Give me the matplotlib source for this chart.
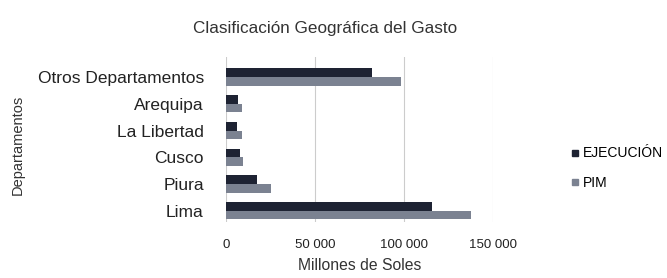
import matplotlib
matplotlib.use("Agg")
import matplotlib.pyplot as plt
import numpy as np
from matplotlib.lines import Line2D

plt.rcParams['font.family'] = ['Liberation Sans', 'DejaVu Sans']

categorias = ["Lima", "Piura", "Cusco", "La Libertad", "Arequipa", "Otros Departamentos"]
ejecucion = [116000, 17600, 8000, 6200, 6800, 81800]
pim = [137500, 25000, 9600, 9000, 9000, 98300]
xticks = [0, 50000, 100000, 150000]
xticklabels = ["0", "50 000", "100 000", "150 000"]

c_ejec = "#1e2333"
c_pim = "#7b8291"

fig = plt.figure(figsize=(6.67, 2.78), dpi=100)
ax = fig.add_axes([226/667, 1-222/278, (493-226)/667, (222-57)/278])

y = np.arange(len(categorias))
h = 0.32
ax.barh(y + h/2, ejecucion, height=h, color=c_ejec, zorder=3)
ax.barh(y - h/2, pim, height=h, color=c_pim, zorder=3)

ax.set_xlim(0, 150000)
ax.set_ylim(-0.42, 5.75)
ax.set_xticks(xticks)
ax.set_xticklabels(xticklabels, fontsize=9.5, color="#222222")
ax.set_yticks(y)
ax.set_yticklabels(categorias, fontsize=12.5, color="#222222")
ax.tick_params(axis='both', length=0)
ax.tick_params(axis='x', pad=12)
ax.tick_params(axis='y', pad=16)
ax.grid(axis='x', color="#cccccc", linewidth=0.8, zorder=0)
for s in ax.spines.values():
    s.set_visible(False)

ax.set_xlabel("Millones de Soles", fontsize=11.3, color="#333333", labelpad=5)
fig.text(18/667, 1-145/278, "Departamentos", rotation=90, fontsize=10.5,
         color="#333333", ha='center', va='center')
fig.text(325/667, 1-28/278, "Clasificación Geográfica del Gasto", fontsize=12.3,
         color="#333333", ha='center', va='center')

handles = [Line2D([0], [0], marker='s', color='none', markerfacecolor=c_ejec,
                  markeredgecolor=c_ejec, markersize=5),
           Line2D([0], [0], marker='s', color='none', markerfacecolor=c_pim,
                  markeredgecolor=c_pim, markersize=5)]
fig.legend(handles, ["EJECUCIÓN", "PIM"], loc='center left',
           bbox_to_anchor=(558/667, 1-168/278), frameon=False, fontsize=10,
           handlelength=0.6, handletextpad=0.3, labelspacing=1.1)

fig.savefig("out.png", dpi=100)
